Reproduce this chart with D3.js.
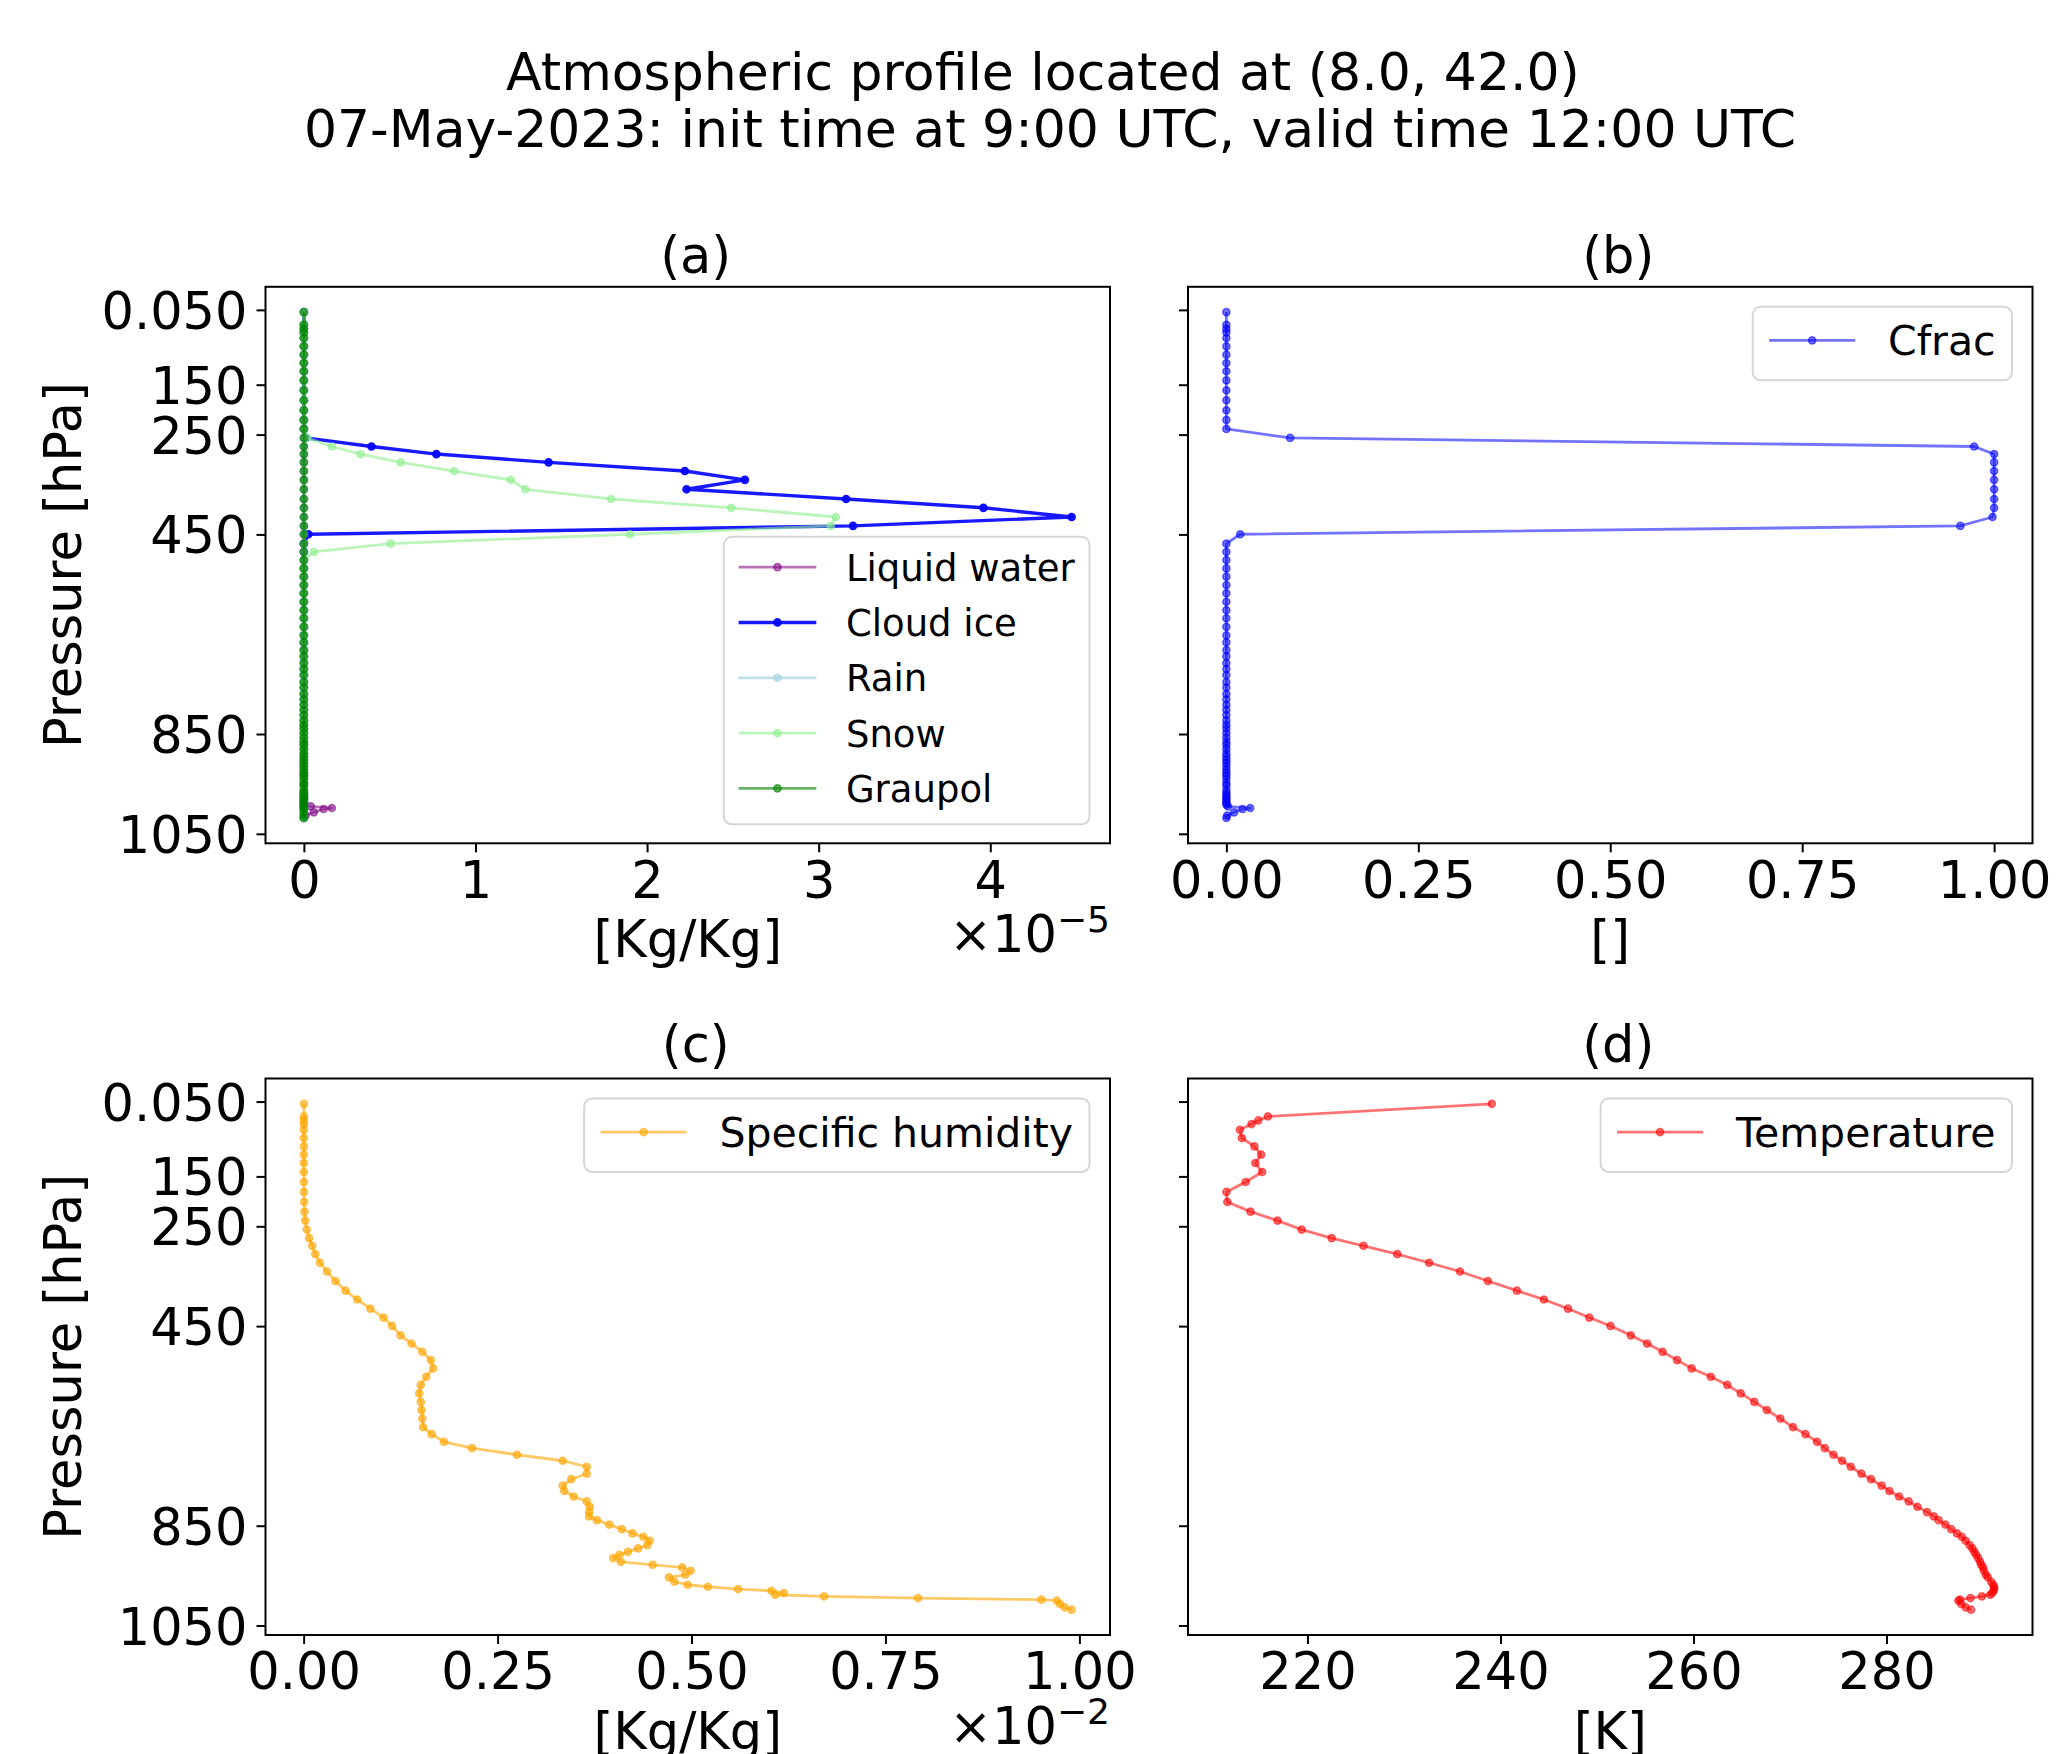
<!DOCTYPE html>
<html><head><meta charset="utf-8">
<script src="https://cdn.jsdelivr.net/npm/d3@7"></script>
<style>
body{margin:0;background:#fff}
svg{display:block}
text{font-family:"DejaVu Sans",sans-serif;fill:#000}
</style>
</head><body>
<svg id="chart" width="2056" height="1754"></svg>
<script>
// ---------------- DATA ----------------
const titleLines = ["Atmospheric profile located at (8.0, 42.0)",
                    "07-May-2023: init time at 9:00 UTC, valid time 12:00 UTC"];
const panelTitles = ["(a)", "(b)", "(c)", "(d)"];

// model levels, pressure [hPa]
const pressureLevels = [
  4.5, 29.9, 37.9, 45.1, 56.5, 73.1, 89.9, 106.5, 123.1, 141.2,
  161.2, 181.2, 201.2, 220.6, 238.6, 256.6, 273.8, 289.0, 305.6, 323.0,
  340.6, 359.6, 379.0, 396.7, 415.1, 432.9, 449.7, 468.5, 484.9, 501.5,
  518.1, 534.7, 551.5, 567.9, 584.9, 601.9, 618.1, 635.2, 652.3, 666.4,
  681.8, 694.4, 707.8, 719.8, 731.8, 745.8, 756.8, 769.8, 780.4, 791.4,
  801.4, 812.0, 822.8, 831.4, 838.8, 847.8, 856.8, 865.4, 872.2, 880.2,
  888.8, 895.5, 902.3, 908.3, 914.9, 922.3, 928.3, 933.5, 940.3, 948.3,
  953.5, 962.3, 968.3, 972.3, 976.9, 980.3, 984.9, 988.3, 991.5, 994.9,
  998.3, 1000.3, 1006.9, 1013.5, 1018.3
];

// [kg/kg]
const liquidWater = [
  0,0,0,0,0,0,0,0,0,0,
  0,0,0,0,0,0,0,0,0,0,
  0,0,0,0,0,0,0,0,0,0,
  0,0,0,0,0,0,0,0,0,0,
  0,0,0,0,0,0,0,0,0,0,
  0,0,0,0,0,0,0,0,0,0,
  0,0,0,0,0,0,0,0,0,0,
  0,0,0,0,0,0,0,0,0,4.0e-7,
  1.63e-6, 1.15e-6, 5.8e-7, 1.0e-7, 0
];
const cloudIce = [
  0,0,0,0,0,0,0,0,0,0,
  0,0,0,0,0, 1.0e-7, 3.94e-6, 7.72e-6, 1.426e-5, 2.22e-5,
  2.57e-5, 2.23e-5, 3.16e-5, 3.96e-5, 4.474e-5, 3.20e-5, 2.6e-7, 0,0,0,
  0,0,0,0,0,0,0,0,0,0,
  0,0,0,0,0,0,0,0,0,0,
  0,0,0,0,0,0,0,0,0,0,
  0,0,0,0,0,0,0,0,0,0,
  0,0,0,0,0,0,0,0,0,0,
  0,0,0,0,0
];
const rain = [
  0,0,0,0,0,0,0,0,0,0,
  0,0,0,0,0,0,0,0,0,0,
  0,0,0,0,0,0,0,0,0,0,
  0,0,0,0,0,0,0,0,0,0,
  0,0,0,0,0,0,0,0,0,0,
  0,0,0,0,0,0,0,0,0,0,
  0,0,0,0,0,0,0,0,0,0,
  0,0,0,0,0,0,0,0,0,0,
  0,0,0,0,0
];
const snow = [
  0,0,0,0,0,0,0,0,0,0,
  0,0,0,0,0, 2.0e-7, 1.63e-6, 3.30e-6, 5.64e-6, 8.75e-6,
  1.205e-5, 1.29e-5, 1.79e-5, 2.49e-5, 3.10e-5, 3.07e-5, 1.90e-5, 5.06e-6, 5.8e-7, 0,
  0,0,0,0,0,0,0,0,0,0,
  0,0,0,0,0,0,0,0,0,0,
  0,0,0,0,0,0,0,0,0,0,
  0,0,0,0,0,0,0,0,0,0,
  0,0,0,0,0,0,0,0,0,0,
  0,0,0,0,0
];
const graupel = [
  0,0,0,0,0,0,0,0,0,0,
  0,0,0,0,0,0,0,0,0,0,
  0,0,0,0,0,0,0,0,0,0,
  0,0,0,0,0,0,0,0,0,0,
  0,0,0,0,0,0,0,0,0,0,
  0,0,0,0,0,0,0,0,0,0,
  0,0,0,0,0,0,0,0,0,0,
  0,0,0,0,0,0,0,0,0,0,
  0,0,0,0,0
];
// cloud fraction []
const cloudFraction = [
  0,0,0,0,0,0,0,0,0,0,
  0,0,0,0,0, 0.083, 0.974, 1.0, 1.0, 1.0,
  1.0, 1.0, 1.0, 1.0, 0.998, 0.956, 0.018, 0, 0, 0,
  0,0,0,0,0,0,0,0,0,0,
  0,0,0,0,0,0,0,0,0,0,
  0,0,0,0,0,0,0,0,0,0,
  0,0,0,0,0,0,0,0,0,0,
  0,0,0,0,0,0,0,0,0,0.002,
  0.031, 0.021, 0.010, 0.001, 0
];
// specific humidity [kg/kg]
const specificHumidity = [
  0.000003,0.000003,0.000003,0.000003,0.000003,0.000003,0.000003,0.000003,0.000003,0.000003,
  0.000004,0.000005,0.000007,0.00001,0.00002,0.00004,0.00007,0.00011,0.00015,0.00021,
  0.00030,0.00041,0.00054,0.00069,0.00086,0.00103,0.00114,0.00125,0.00139,0.00153,
  0.00164,0.00167,0.00158,0.00151,0.00149,0.00151,0.00152,0.00153,0.00154,0.00165,
  0.00181,0.00217,0.00275,0.00334,0.00365,0.00365,0.00345,0.00334,0.00336,0.00348,
  0.00365,0.00369,0.00368,0.00368,0.00378,0.00394,0.00410,0.00424,0.00438,0.00446,
  0.00443,0.00431,0.00418,0.00407,0.00399,0.00409,0.00450,0.00488,0.00499,0.00492,
  0.00471,0.00478,0.00495,0.00521,0.00560,0.00603,0.00619,0.00608,0.00671,0.00792,
  0.00951,0.00971,0.00975,0.00981,0.00990
];
// temperature [K]
const temperature = [
  239.1, 215.9, 214.9, 214.2, 213.0, 213.2, 214.5, 215.2, 214.6, 215.3,
  213.6, 211.6, 211.7, 214.1, 216.9, 219.4, 222.5, 225.8, 229.3, 232.6,
  235.8, 238.7, 241.7, 244.5, 247.0, 249.2, 251.4, 253.5, 255.2, 256.8,
  258.3, 259.8, 261.8, 263.5, 264.9, 266.3, 267.6, 269.0, 270.3, 271.6,
  272.8, 273.6, 274.5, 275.4, 276.3, 277.4, 278.4, 279.5, 280.3, 281.3,
  282.3, 283.2, 284.2, 284.9, 285.4, 286.1, 286.7, 287.3, 287.8, 288.2,
  288.6, 288.9, 289.1, 289.3, 289.5, 289.7, 289.8, 290.0, 290.1, 290.3,
  290.5, 290.85, 291.05, 291.15, 291.15, 291.1, 290.95, 290.74, 289.88, 288.7,
  287.62, 287.45, 287.75, 288.2, 288.76
];

// axis ticks
const yTickValues = [0.05, 150, 250, 450, 850, 1050];
const yTickLabels = ["0.050", "150", "250", "450", "850", "1050"];
const xTicksA = [0, 1, 2, 3, 4];
const xTicksB = [0, 0.25, 0.5, 0.75, 1.0];
const xTicksC = [0, 0.25, 0.5, 0.75, 1.0];
const xTicksD = [220, 240, 260, 280];

// ---------------- DRAWING ----------------
const FONT = '"DejaVu Sans", sans-serif';
const svg = d3.select("#chart");
const W = 844.5, H = 556.5;
const TICK_FS = 51;
const MR = 3.6, MSW = 1.5;

svg.append("text").attr("x", 1043).attr("y", 89.5).attr("text-anchor", "middle")
  .attr("font-size", 52).text(titleLines[0]);
svg.append("text").attr("x", 1050).attr("y", 147).attr("text-anchor", "middle")
  .attr("font-size", 52).text(titleLines[1]);

const panels = [
  { left: 265.5, top: 286.8, title: panelTitles[0], titleY: -14, ylabel: true,
    unit: 1e-5, xTicks: xTicksA, fmt: d3.format("d"), xlabel: "[Kg/Kg]", offsetExp: "\u22125",
    legendFs: 37, legendLoc: "lower right",
    series: [
      { name: "Liquid water", values: liquidWater, color: "#800080", alpha: 0.55, lw: 2.8 },
      { name: "Cloud ice",    values: cloudIce,    color: "#0000ff", alpha: 0.9,  lw: 3.4 },
      { name: "Rain",         values: rain,        color: "#add8e6", alpha: 0.8,  lw: 2.8 },
      { name: "Snow",         values: snow,        color: "#90ee90", alpha: 0.6,  lw: 2.8 },
      { name: "Graupol",      values: graupel,     color: "#008000", alpha: 0.6,  lw: 2.8 }
    ] },
  { left: 1188, top: 286.8, title: panelTitles[1], titleY: -14, ylabel: false,
    unit: 1, xTicks: xTicksB, fmt: d3.format(".2f"), xlabel: "[]", offsetExp: null,
    legendFs: 41, legendLoc: "upper right",
    series: [
      { name: "Cfrac", values: cloudFraction, color: "#0000ff", alpha: 0.55, lw: 2.8 }
    ] },
  { left: 265.5, top: 1078.5, title: panelTitles[2], titleY: -17, ylabel: true,
    unit: 1e-2, xTicks: xTicksC, fmt: d3.format(".2f"), xlabel: "[Kg/Kg]", offsetExp: "\u22122",
    legendFs: 41, legendLoc: "upper right",
    series: [
      { name: "Specific humidity", values: specificHumidity, color: "#ffa500", alpha: 0.6, lw: 2.8 }
    ] },
  { left: 1188, top: 1078.5, title: panelTitles[3], titleY: -17, ylabel: false,
    unit: 1, xTicks: xTicksD, fmt: d3.format("d"), xlabel: "[K]", offsetExp: null,
    legendFs: 41, legendLoc: "upper right",
    series: [
      { name: "Temperature", values: temperature, color: "#ff0000", alpha: 0.55, lw: 2.8 }
    ] }
];

function marker(sel, s) {
  sel.attr("r", MR).attr("fill", s.color).attr("fill-opacity", s.alpha)
    .attr("stroke", s.color).attr("stroke-opacity", s.alpha).attr("stroke-width", MSW);
}

function drawLegend(g, series, f, loc) {
  const rowH = 1.495 * f;
  const lg = g.append("g");
  const texts = series.map(s => lg.append("text").attr("font-size", f).text(s.name));
  const textW = d3.max(texts, t => t.node().getComputedTextLength());
  const boxW = 3.7 * f + textW;
  const boxH = 0.82 * f + (series.length - 1) * rowH + 0.97 * f;
  const right = W - 20.5;
  const left = right - boxW;
  const top = loc === "upper right" ? 20 : H - 19 - boxH;
  lg.insert("rect", "text").attr("x", left).attr("y", top).attr("width", boxW).attr("height", boxH)
    .attr("rx", 8).attr("fill", "#fff").attr("fill-opacity", 0.8)
    .attr("stroke", "#d6d6d6").attr("stroke-width", 2);
  series.forEach((s, i) => {
    const cy = top + 0.82 * f + i * rowH;
    const x0 = left + 0.4 * f, x1 = left + 2.5 * f;
    lg.append("line").attr("x1", x0).attr("x2", x1).attr("y1", cy).attr("y2", cy)
      .attr("stroke", s.color).attr("stroke-opacity", s.alpha).attr("stroke-width", s.lw);
    marker(lg.append("circle").attr("cx", (x0 + x1) / 2).attr("cy", cy), s);
    texts[i].attr("x", left + 3.3 * f).attr("y", cy + 0.3645 * f).raise();
  });
}

panels.forEach(p => {
  const g = svg.append("g").attr("transform", `translate(${p.left},${p.top})`);
  const allVals = p.series.flatMap(s => s.values.map(v => v / p.unit));
  const [xmin, xmax] = d3.extent(allVals);
  const xm = (xmax - xmin) * 0.05;
  const x = d3.scaleLinear().domain([xmin - xm, xmax + xm]).range([0, W]);
  const [pmin, pmax] = d3.extent(pressureLevels);
  const pm = (pmax - pmin) * 0.05;
  const y = d3.scaleLinear().domain([pmin - pm, pmax + pm]).range([0, H]);

  p.series.forEach(s => {
    const pts = s.values.map((v, i) => [x(v / p.unit), y(pressureLevels[i])]);
    g.append("path").attr("d", d3.line()(pts)).attr("fill", "none")
      .attr("stroke", s.color).attr("stroke-opacity", s.alpha).attr("stroke-width", s.lw)
      .attr("stroke-linejoin", "round");
    g.append("g").selectAll("circle").data(pts).join("circle")
      .attr("cx", d => d[0]).attr("cy", d => d[1]).call(sel => marker(sel, s));
  });

  drawLegend(g, p.series, p.legendFs, p.legendLoc);

  g.append("rect").attr("width", W).attr("height", H).attr("fill", "none")
    .attr("stroke", "#000").attr("stroke-width", 2);

  // x axis
  const gx = g.append("g").attr("transform", `translate(0,${H})`)
    .call(d3.axisBottom(x).tickValues(p.xTicks).tickFormat(p.fmt).tickSize(9).tickPadding(9));
  gx.attr("font-size", TICK_FS).attr("font-family", FONT);
  gx.select(".domain").remove();
  gx.selectAll(".tick line").attr("stroke", "#000").attr("stroke-width", 2);
  gx.selectAll(".tick text").attr("fill", "#000");

  // y axis
  const gy = g.append("g")
    .call(d3.axisLeft(y).tickValues(yTickValues)
      .tickFormat((d, i) => p.ylabel ? yTickLabels[i] : "").tickSize(9).tickPadding(9));
  gy.attr("font-size", TICK_FS).attr("font-family", FONT);
  gy.select(".domain").remove();
  gy.selectAll(".tick line").attr("stroke", "#000").attr("stroke-width", 2);
  gy.selectAll(".tick text").attr("fill", "#000").attr("dy", "0.364em");

  // subplot title
  g.append("text").attr("x", W / 2 + 8).attr("y", p.titleY).attr("text-anchor", "middle")
    .attr("font-size", 51).text(p.title);

  // x label
  g.append("text").attr("x", W / 2).attr("y", H + 113.6).attr("text-anchor", "middle")
    .attr("font-size", 51).text(p.xlabel);

  // offset text
  if (p.offsetExp) {
    const t = g.append("text").attr("x", W).attr("y", H + 109).attr("text-anchor", "end")
      .attr("font-size", 51);
    t.append("tspan").text("\u00d710");
    t.append("tspan").attr("dy", -20).attr("font-size", 36).text(p.offsetExp);
  }

  // y label
  if (p.ylabel) {
    svg.append("text").attr("transform", `translate(81,${p.top + H / 2}) rotate(-90)`)
      .attr("text-anchor", "middle").attr("font-size", 51).text("Pressure [hPa]");
  }
});
</script>
</body></html>
